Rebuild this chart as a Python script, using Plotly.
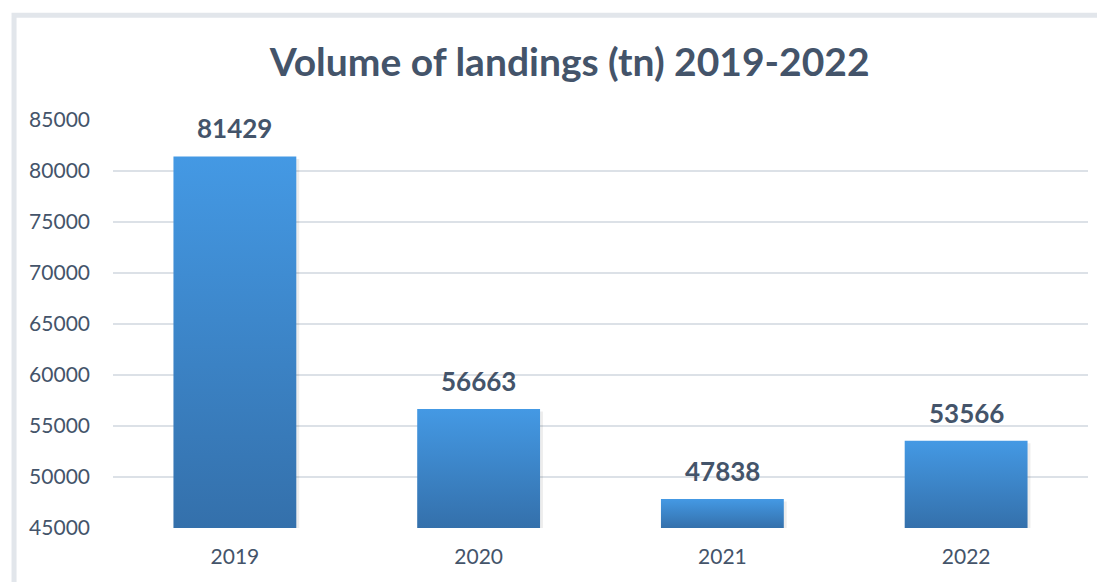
import plotly.graph_objects as go

years = ["2019", "2020", "2021", "2022"]
landings = [81429, 56663, 47838, 53566]
y_ticks = [45000, 50000, 55000, 60000, 65000, 70000, 75000, 80000, 85000]
y_tick_labels = [str(t) for t in y_ticks]

TEXT = "#44546A"
FONT = "Lato"
Y_MIN, Y_MAX = 45000, 85000
HALF = 0.252

fig = go.Figure()

for i, (yr, v) in enumerate(zip(years, landings)):
    xs = [i - HALF, i + HALF, i + HALF, i - HALF, i - HALF]
    ys = [Y_MIN, Y_MIN, v, v, Y_MIN]
    # soft shadow
    fig.add_trace(go.Scatter(
        x=[x + 0.012 for x in xs], y=[y - 250 for y in ys],
        fill="toself", fillcolor="rgba(0,0,0,0.07)", mode="lines",
        line=dict(width=0), hoverinfo="skip", showlegend=False))
    fig.add_trace(go.Scatter(
        x=xs, y=ys, fill="toself", mode="lines", line=dict(width=0),
        fillgradient=dict(type="vertical",
                          colorscale=[[0, "#3470AB"], [1, "#4499E4"]]),
        name=yr, showlegend=False, hoverinfo="skip"))
    fig.add_annotation(x=i, y=v, text=f"<b>{v}</b>", showarrow=False,
                       yanchor="bottom", yshift=10,
                       font=dict(family=FONT, size=26, color=TEXT))

fig.add_shape(type="path", xref="paper", yref="paper",
              path="M -0.1015 -0.2 L -0.1015 1.257 L 1.2 1.257",
              line=dict(color="#E2E6EB", width=5), layer="below")

fig.update_layout(
    width=1097, height=574,
    margin=dict(l=105, r=17, t=112, b=54),
    paper_bgcolor="white", plot_bgcolor="white",
    title=dict(text="<b>Volume of landings (tn) 2019-2022</b>",
               x=0.512, xanchor="center", y=0.906, yanchor="middle",
               font=dict(family=FONT, size=39, color=TEXT)),
    xaxis=dict(range=[-0.5, 3.5], tickvals=list(range(len(years))),
               ticktext=years, showgrid=False, zeroline=False,
               showline=False, ticks="", ticklabelstandoff=14,
               tickfont=dict(family=FONT, size=21, color=TEXT),
               fixedrange=True),
    yaxis=dict(range=[Y_MIN, Y_MAX], tickvals=y_ticks,
               ticktext=y_tick_labels,
               showgrid=True, gridcolor="#DCE1E7", gridwidth=1.5,
               zeroline=False, showline=False, ticks="",
               ticklabelstandoff=22,
               tickfont=dict(family=FONT, size=21, color=TEXT),
               fixedrange=True),
    showlegend=False,
)

fig.write_html("out.html")
